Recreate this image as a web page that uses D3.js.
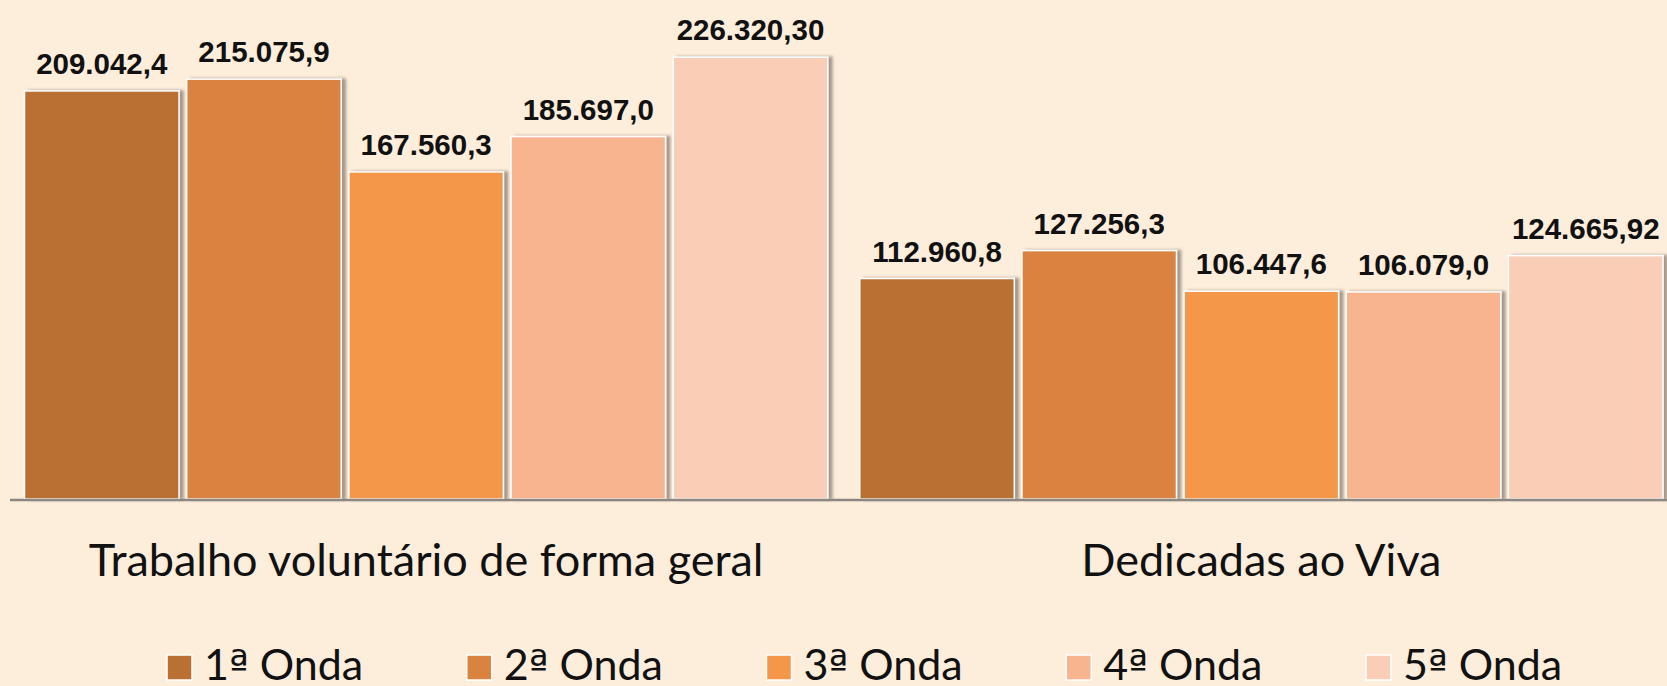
<!DOCTYPE html>
<html>
<head>
<meta charset="utf-8">
<script src="https://cdnjs.cloudflare.com/ajax/libs/d3/7.8.5/d3.min.js"></script>
<style>
  html, body { margin: 0; padding: 0; background: #fdeddb; }
  svg { display: block; }
  .valueLabel { font-family: "Liberation Sans", Arial, sans-serif; font-weight: bold; font-size: 29.5px; fill: #111; }
  .catLabel { font-family: Lato, "Open Sans", sans-serif; font-size: 45px; fill: #111; }
  .legendText { font-family: Lato, "Open Sans", sans-serif; font-size: 43px; fill: #111; }
  .ord { font-family: "DejaVu Sans", sans-serif; font-size: 42px; }
</style>
</head>
<body>
<div id="chartContainer"></div>
<script>
// data
var categories = ["Trabalho voluntário de forma geral", "Dedicadas ao Viva"];
var series = ["1ª Onda", "2ª Onda", "3ª Onda", "4ª Onda", "5ª Onda"];
var valuesGeral = [209042.4, 215075.9, 167560.3, 185697.0, 226320.30];
var valuesViva = [112960.8, 127256.3, 106447.6, 106079.0, 124665.92];
var labelsGeral = ["209.042,4", "215.075,9", "167.560,3", "185.697,0", "226.320,30"];
var labelsViva = ["112.960,8", "127.256,3", "106.447,6", "106.079,0", "124.665,92"];
var colors = ["#b97033", "#da8240", "#f59748", "#f7b48f", "#facdb7"];

var width = 1667, height = 686;

var rows = [];
[valuesGeral, valuesViva].forEach(function(vals, gi) {
    var labs = gi == 0 ? labelsGeral : labelsViva;
    for (var i = 0; i < vals.length; i++) {
        rows.push({cat: categories[gi], s: series[i], v: vals[i], label: labs[i], c: colors[i]});
    }
});

var svg = d3.select("#chartContainer")
    .append("svg")
    .attr("width", width)
    .attr("height", height);

// shadow on the right side of each bar
var defs = svg.append("defs");
var f = defs.append("filter").attr("id", "shadow")
    .attr("x", "-5%").attr("y", "-5%").attr("width", "115%").attr("height", "110%");
f.append("feDropShadow")
    .attr("dx", 4).attr("dy", 0).attr("stdDeviation", 1.5)
    .attr("flood-color", "#6b5f55").attr("flood-opacity", 0.6);

var xGroup = d3.scaleBand()
    .domain(categories)
    .range([24.5, 1663])
    .paddingInner(0.0383)
    .paddingOuter(0);

var xBar = d3.scaleBand()
    .domain(series)
    .range([0, xGroup.bandwidth()])
    .paddingInner(0.047)
    .paddingOuter(0);

var yScale = d3.scaleLinear()
    .domain([0, 250000])
    .range([499, 11]);

//bars
svg.selectAll("rect.bar")
    .data(rows)
    .enter()
    .append("rect")
    .attr("class", "bar")
    .attr("x", function(d) { return xGroup(d.cat) + xBar(d.s); })
    .attr("y", function(d) { return yScale(d.v); })
    .attr("width", xBar.bandwidth())
    .attr("height", function(d) { return yScale(0) - yScale(d.v); })
    .attr("fill", function(d) { return d.c; })
    .attr("stroke", "#ffffff")
    .attr("stroke-width", 1.5)
    .attr("filter", "url(#shadow)");

//value labels
svg.selectAll("text.valueLabel")
    .data(rows)
    .enter()
    .append("text")
    .attr("class", "valueLabel")
    .attr("text-anchor", "middle")
    .attr("x", function(d) { return xGroup(d.cat) + xBar(d.s) + xBar.bandwidth() / 2; })
    .attr("y", function(d) { return yScale(d.v) - 17; })
    .text(function(d) { return d.label; });

//baseline axis
var axisBottom = d3.axisBottom(xGroup).tickSize(0).tickFormat("");
svg.append("g")
    .attr("class", "xAxis")
    .attr("transform", "translate(0," + (yScale(0) + 1) + ")")
    .call(axisBottom)
    .call(function(g) {
        g.select(".domain").attr("d", "M10,0H" + width).attr("stroke", "#8c8781").attr("stroke-width", 2.5);
    });

//category labels
svg.selectAll("text.catLabel")
    .data(categories)
    .enter()
    .append("text")
    .attr("class", "catLabel")
    .attr("text-anchor", "middle")
    .attr("x", function(d) { return xGroup(d) + xGroup.bandwidth() / 2; })
    .attr("y", 576)
    .text(function(d) { return d; });

//legend
var legendX = d3.scalePoint()
    .domain(series)
    .range([167, 1366]);

var legend = svg.selectAll("g.legendItem")
    .data(series)
    .enter()
    .append("g")
    .attr("class", "legendItem")
    .attr("transform", function(d) { return "translate(" + legendX(d) + ",0)"; });

legend.append("rect")
    .attr("x", 0)
    .attr("y", 655)
    .attr("width", 25)
    .attr("height", 25)
    .attr("fill", function(d, i) { return colors[i]; })
    .attr("stroke", "#ffffff")
    .attr("stroke-width", 1.5);

// ordinal sign drawn in a font whose ª is underlined
var lt = legend.append("text")
    .attr("class", "legendText")
    .attr("x", 37)
    .attr("y", 680);
lt.append("tspan").text(function(d) { return d.split("ª")[0]; });
lt.append("tspan").attr("class", "ord").text("ª");
lt.append("tspan").text(function(d) { return d.split("ª")[1]; });
</script>
</body>
</html>
